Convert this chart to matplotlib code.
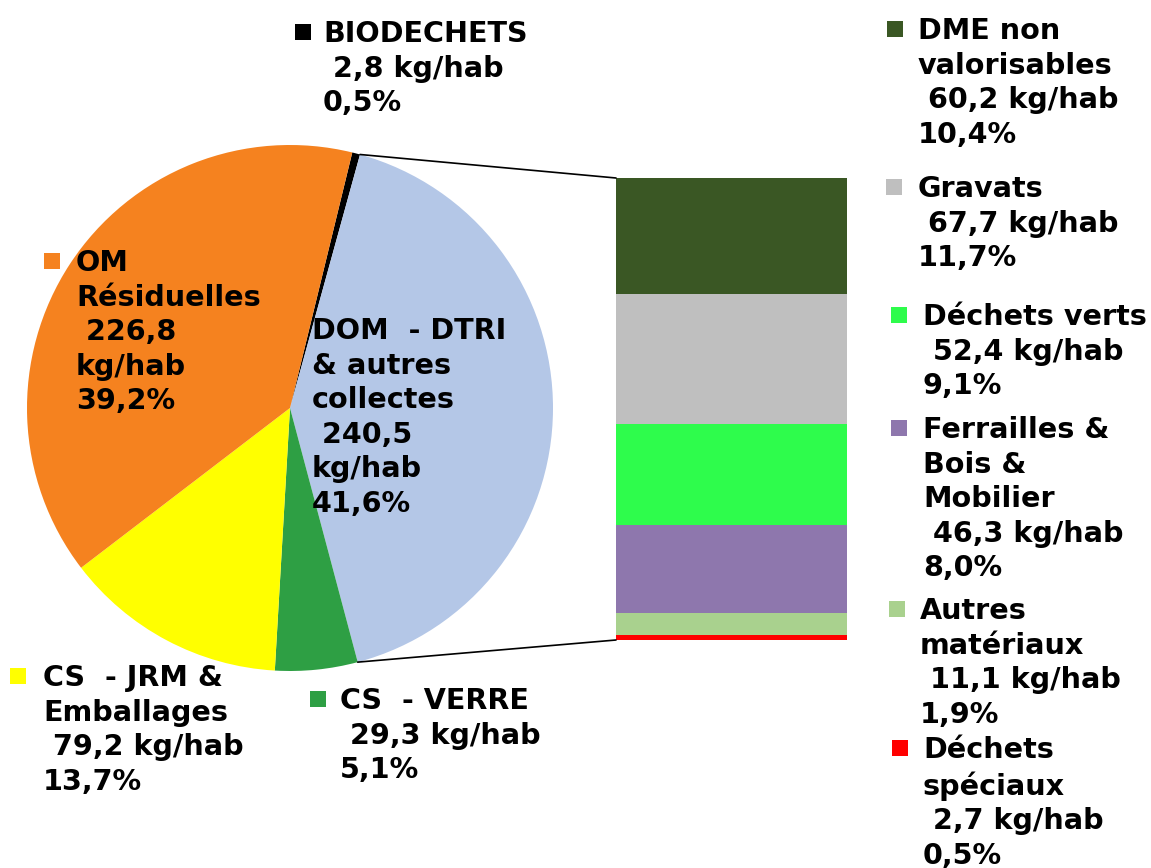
import matplotlib.pyplot as plt
from matplotlib.patches import Rectangle, ConnectionPatch
import numpy as np

# pie data (clockwise from the top)
pie_names = ["BIODECHETS", "DOM  - DTRI\n& autres\ncollectes", "CS  - VERRE",
             "CS  - JRM &\nEmballages", "OM\nRésiduelles"]
pie_values = [2.8, 240.5, 29.3, 79.2, 226.8]
pie_colors = ["#000000", "#B4C7E7", "#2E9F44", "#FFFF00", "#F5821F"]

# breakdown of "DOM - DTRI & autres collectes" (top to bottom)
bar_names = ["DME non\nvalorisables", "Gravats", "Déchets verts",
             "Ferrailles &\nBois &\nMobilier", "Autres\nmatériaux", "Déchets\nspéciaux"]
bar_values = [60.2, 67.7, 52.4, 46.3, 11.1, 2.7]
bar_colors = ["#3A5724", "#BFBFBF", "#2EFC4C", "#8E77AD", "#A9D18E", "#FF0000"]

total = sum(pie_values)
W, H = 1151, 868

plt.rcParams['font.family'] = 'DejaVu Sans'
fig = plt.figure(figsize=(W / 100, H / 100), dpi=100)


def fx(px):
    return px / W


def fy(py):
    return 1 - py / H


def fmt(v):
    return f"{v:.1f}".replace(".", ",")


def label(name, v):
    return f"{name}\n {fmt(v)} kg/hab\n{fmt(100 * v / total)}%"


# pie
cx, cy, r = 290, 408, 263
half = 1.1 * r
ax_pie = fig.add_axes([fx(cx - half), fy(cy + half), 2 * half / W, 2 * half / H])
wedges, _ = ax_pie.pie(pie_values, colors=pie_colors, startangle=76.3,
                       counterclock=False, wedgeprops=dict(linewidth=0))
ax_pie.set_xlim(-1.1, 1.1)
ax_pie.set_ylim(-1.1, 1.1)
ax_pie.set_aspect('equal')
ax_pie.axis('off')

# stacked bar
bx0, bx1, by0, by1 = 616, 847, 178, 640
ax_bar = fig.add_axes([fx(bx0), fy(by1), (bx1 - bx0) / W, (by1 - by0) / H])
bottom = 0
for v, c in zip(bar_values[::-1], bar_colors[::-1]):
    ax_bar.bar(0, v, bottom=bottom, width=1, color=c, linewidth=0)
    bottom += v
ax_bar.set_xlim(-0.5, 0.5)
ax_bar.set_ylim(0, sum(bar_values))
ax_bar.axis('off')

# connector lines
w = wedges[1]
for ang, yb in [(max(w.theta1, w.theta2), 1), (min(w.theta1, w.theta2), 0)]:
    t = np.deg2rad(ang)
    con = ConnectionPatch(xyA=(np.cos(t), np.sin(t)), coordsA=ax_pie.transData,
                          xyB=(0, yb), coordsB=ax_bar.transAxes,
                          color="black", linewidth=1.2)
    fig.add_artist(con)

fs = 20.6
ls = 1.3


def put(text, x, cap_top, sq=None):
    # cap_top: pixel row of the top of the first line's capitals
    fig.text(fx(x), fy(cap_top - 3), text, ha='left', va='top', fontsize=fs,
             fontweight='bold', linespacing=ls)
    if sq is not None:
        sx, col = sq
        fig.add_artist(Rectangle((fx(sx), fy(cap_top + 17)), 16 / W, 16 / H,
                                 transform=fig.transFigure, color=col, linewidth=0))


# pie labels
put(label(pie_names[0], pie_values[0]), 323, 23, (295, pie_colors[0]))
put(label(pie_names[4], pie_values[4]).replace(" kg/hab", "\nkg/hab"), 76, 252,
    (44, pie_colors[4]))
put(label(pie_names[1], pie_values[1]).replace(" kg/hab", "\nkg/hab"), 312, 320)
put(label(pie_names[3], pie_values[3]), 43, 667, (10, pie_colors[3]))
put(label(pie_names[2], pie_values[2]), 340, 690, (310, pie_colors[2]))

# bar labels
bar_pos = [(918, 20, 887), (918, 178, 886), (923, 306, 891),
           (923, 419, 891), (920, 600, 889), (923, 739, 892)]
for name, v, c, (tx, ty, sx) in zip(bar_names, bar_values, bar_colors, bar_pos):
    put(label(name, v), tx, ty, (sx, c))

fig.savefig("out.png", dpi=100)
